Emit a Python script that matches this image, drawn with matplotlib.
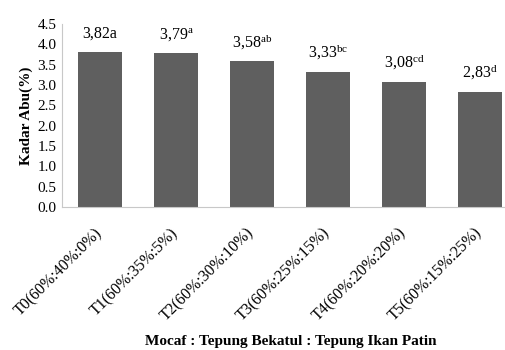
import matplotlib
matplotlib.use("Agg")
import matplotlib.pyplot as plt

categories = ["T0(60%:40%:0%)", "T1(60%:35%:5%)", "T2(60%:30%:10%)",
              "T3(60%:25%:15%)", "T4(60%:20%:20%)", "T5(60%:15%:25%)"]
values = [3.82, 3.79, 3.58, 3.33, 3.08, 2.83]
value_text = ["3,82", "3,79", "3,58", "3,33", "3,08", "2,83"]
letters = ["a", "a", "ab", "bc", "cd", "d"]
superscript = [False, True, True, True, True, True]
yticks = [0.0, 0.5, 1.0, 1.5, 2.0, 2.5, 3.0, 3.5, 4.0, 4.5]

plt.rcParams['font.family'] = ['Liberation Serif', 'DejaVu Serif']
plt.rcParams['mathtext.fontset'] = 'custom'
plt.rcParams['mathtext.rm'] = 'Liberation Serif'
plt.rcParams['mathtext.it'] = 'Liberation Serif'

W, H = 506, 350
fig = plt.figure(figsize=(W / 100, H / 100), dpi=100)
ax = fig.add_axes([62 / W, 1 - 207 / H, 456 / W, 183 / H])

x = list(range(len(categories)))
bars = ax.bar(x, values, width=0.58, color="#5f5f5f", zorder=2)
ax.set_xlim(-0.5, 5.5)
ax.set_ylim(0, 4.5)
ax.set_yticks(yticks)
ax.set_yticklabels([f"{t:.1f}" for t in yticks], fontsize=11)
ax.set_xticks(x)
ax.set_xticklabels(categories, rotation=45, ha="right", va="center",
                   rotation_mode="anchor", fontsize=11.5)
ax.tick_params(axis="x", length=0, pad=17)
ax.tick_params(axis="y", length=0, pad=4)

for s in ["top", "right"]:
    ax.spines[s].set_visible(False)
ax.spines["left"].set_color("#c8c8c8")
ax.spines["bottom"].set_color("#c8c8c8")

for xi, v, t, l, sup in zip(x, values, value_text, letters, superscript):
    label = t + (r"$^{\mathrm{" + l + "}}$" if sup else l)
    ax.annotate(label, (xi, v), xytext=(0, 7), textcoords="offset points",
                ha="center", va="bottom", fontsize=11.5)

ax.set_ylabel("Kadar Abu(%)", fontsize=11, fontweight="bold", labelpad=3)
fig.text(291 / W, 1 - 342 / H, "Mocaf : Tepung Bekatul : Tepung Ikan Patin",
         ha="center", va="center", fontsize=11, fontweight="bold")

fig.savefig("out.png", dpi=100)
